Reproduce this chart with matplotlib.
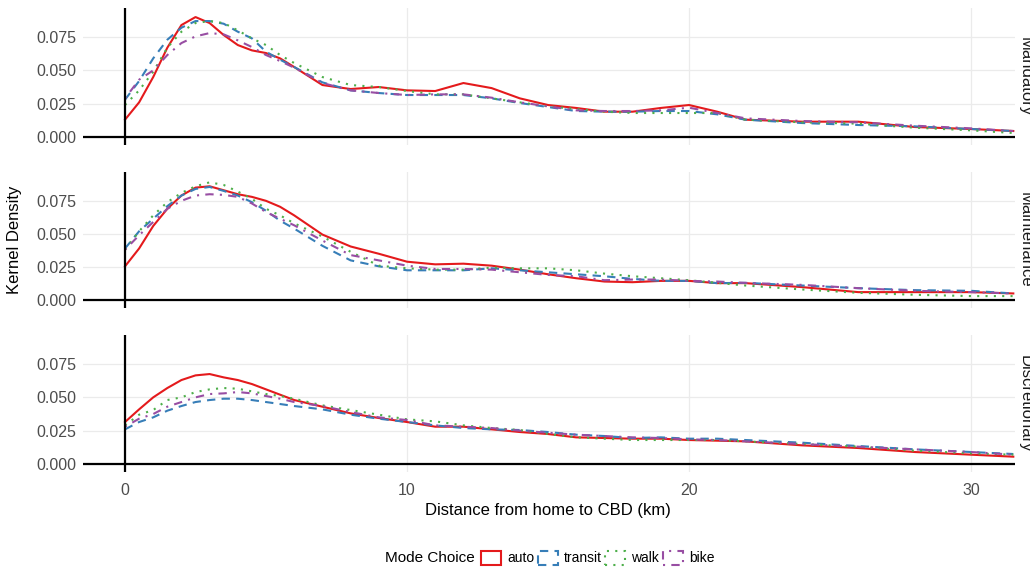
import matplotlib
matplotlib.use("Agg")
import matplotlib.pyplot as plt
from matplotlib.patches import Patch

plt.rcParams['font.family'] = ['Liberation Sans', 'DejaVu Sans']

# distance grid (km) at which the densities were read
dist = [0, 0.5, 1, 1.5, 2, 2.5, 3, 3.5, 4, 4.5, 5, 5.5, 6, 7, 8, 9, 10, 11, 12, 13,
        14, 15, 16, 17, 18, 19, 20, 21, 22, 24, 26, 28, 30, 31.5]

modes = ['auto', 'transit', 'walk', 'bike']
purposes = ['Mandatory', 'Maintenance', 'Discretionary']

# Mandatory
auto_mand = [0.013, 0.026, 0.045, 0.067, 0.084, 0.090, 0.0855, 0.0765, 0.069, 0.065, 0.063, 0.059,
             0.0525, 0.039, 0.036, 0.0375, 0.035, 0.0345, 0.0405, 0.0367, 0.029, 0.024, 0.0218,
             0.019, 0.019, 0.0218, 0.024, 0.019, 0.013, 0.0115, 0.0115, 0.0075, 0.006, 0.0045]
transit_mand = [0.028, 0.042, 0.059, 0.073, 0.082, 0.087, 0.087, 0.085, 0.079, 0.074, 0.064, 0.058,
                0.0525, 0.041, 0.035, 0.033, 0.0315, 0.0315, 0.0315, 0.029, 0.0255, 0.0225, 0.0195,
                0.019, 0.019, 0.0195, 0.0195, 0.017, 0.013, 0.0105, 0.009, 0.008, 0.006, 0.0045]
walk_mand = [0.024, 0.035, 0.049, 0.067, 0.079, 0.0855, 0.087, 0.0855, 0.080, 0.074, 0.069, 0.0615,
             0.0555, 0.045, 0.039, 0.0375, 0.0345, 0.032, 0.032, 0.029, 0.026, 0.023, 0.021,
             0.019, 0.018, 0.018, 0.018, 0.018, 0.013, 0.011, 0.010, 0.007, 0.005, 0.003]
bike_mand = [0.029, 0.043, 0.050, 0.0615, 0.0705, 0.0755, 0.078, 0.077, 0.0725, 0.0675, 0.0615, 0.057,
             0.052, 0.0405, 0.035, 0.033, 0.0315, 0.032, 0.032, 0.0295, 0.026, 0.023, 0.020,
             0.0195, 0.0195, 0.020, 0.022, 0.018, 0.014, 0.012, 0.011, 0.0085, 0.0065, 0.0045]

# Maintenance
auto_main = [0.0255, 0.039, 0.056, 0.069, 0.079, 0.085, 0.086, 0.083, 0.080, 0.078, 0.075, 0.0705,
             0.064, 0.0495, 0.0405, 0.035, 0.029, 0.027, 0.0275, 0.026, 0.023, 0.0195, 0.0165,
             0.014, 0.0135, 0.0145, 0.0145, 0.0128, 0.0128, 0.0098, 0.006, 0.006, 0.006, 0.005]
transit_main = [0.039, 0.052, 0.0615, 0.071, 0.079, 0.084, 0.0855, 0.0825, 0.079, 0.074, 0.0675, 0.060,
                0.054, 0.041, 0.030, 0.0255, 0.0225, 0.0225, 0.0225, 0.024, 0.0225, 0.021, 0.0195,
                0.018, 0.016, 0.0145, 0.0145, 0.0128, 0.013, 0.011, 0.009, 0.0075, 0.007, 0.005]
walk_main = [0.038, 0.052, 0.064, 0.074, 0.081, 0.086, 0.089, 0.087, 0.082, 0.0765, 0.069, 0.064,
             0.058, 0.048, 0.0365, 0.026, 0.024, 0.023, 0.023, 0.0245, 0.024, 0.024, 0.0225,
             0.020, 0.018, 0.0165, 0.015, 0.013, 0.011, 0.008, 0.0055, 0.004, 0.003, 0.003]
bike_main = [0.038, 0.049, 0.059, 0.069, 0.075, 0.079, 0.080, 0.0795, 0.078, 0.073, 0.0665, 0.0615,
             0.0565, 0.045, 0.034, 0.030, 0.026, 0.0235, 0.0235, 0.023, 0.021, 0.019, 0.018,
             0.015, 0.0155, 0.0155, 0.0145, 0.014, 0.013, 0.0115, 0.009, 0.007, 0.006, 0.005]

# Discretionary
auto_disc = [0.0315, 0.041, 0.050, 0.057, 0.063, 0.0665, 0.0675, 0.065, 0.063, 0.060, 0.056, 0.052,
             0.048, 0.043, 0.038, 0.0345, 0.0315, 0.028, 0.028, 0.026, 0.024, 0.0225, 0.020,
             0.0195, 0.019, 0.019, 0.018, 0.0175, 0.017, 0.014, 0.012, 0.009, 0.007, 0.0055]
transit_disc = [0.026, 0.0315, 0.035, 0.040, 0.0435, 0.0465, 0.048, 0.049, 0.049, 0.048, 0.0465, 0.045,
                0.0435, 0.041, 0.037, 0.034, 0.0315, 0.029, 0.027, 0.026, 0.0255, 0.024, 0.022,
                0.021, 0.0195, 0.020, 0.019, 0.019, 0.018, 0.016, 0.0135, 0.011, 0.009, 0.0075]
walk_disc = [0.029, 0.037, 0.0405, 0.048, 0.050, 0.054, 0.056, 0.057, 0.0565, 0.0545, 0.0525, 0.051,
             0.049, 0.044, 0.0405, 0.037, 0.0335, 0.032, 0.029, 0.027, 0.0255, 0.0225, 0.020,
             0.019, 0.018, 0.018, 0.018, 0.018, 0.017, 0.015, 0.013, 0.010, 0.008, 0.007]
bike_disc = [0.028, 0.034, 0.0375, 0.043, 0.0465, 0.050, 0.0525, 0.053, 0.054, 0.053, 0.051, 0.049,
             0.0465, 0.0435, 0.039, 0.035, 0.033, 0.029, 0.028, 0.027, 0.025, 0.0235, 0.022,
             0.021, 0.020, 0.0195, 0.0185, 0.018, 0.017, 0.015, 0.013, 0.011, 0.009, 0.007]

curvas = [
    [auto_mand, transit_mand, walk_mand, bike_mand],
    [auto_main, transit_main, walk_main, bike_main],
    [auto_disc, transit_disc, walk_disc, bike_disc],
]

colores = ['#E41A1C', '#377EB8', '#4DAF4A', '#984EA3']
estilos = ['-', (0, (4, 3)), (0, (1, 3)), (0, (1, 3, 4, 3))]

fig = plt.figure(figsize=(10.30, 5.69), dpi=100)
W, H = 1030.0, 569.0
paneles = [(8, 145), (172, 308), (335, 472)]  # top/bottom in pixels

for i, (top, bot) in enumerate(paneles):
    ax = fig.add_axes([83 / W, 1 - bot / H, (1015 - 83) / W, (bot - top) / H])
    for serie, c, ls in zip(curvas[i], colores, estilos):
        ax.plot(dist, serie, color=c, linestyle=ls, lw=1.5)
    ax.axhline(0, color='black', lw=1.6, zorder=5)
    ax.axvline(0, color='black', lw=1.6, zorder=5)
    ax.set_xlim(-1.49, 31.56)
    ax.set_ylim(-0.006, 0.0968)
    ax.set_xticks([0, 10, 20, 30])
    ax.set_yticks([0, 0.025, 0.05, 0.075])
    ax.set_yticklabels(['0.000', '0.025', '0.050', '0.075'])
    ax.grid(True, color='#EBEBEB', lw=0.9)
    ax.set_axisbelow(True)
    for s in ax.spines.values():
        s.set_visible(False)
    ax.tick_params(length=0, labelsize=11.5, labelcolor='#4D4D4D')
    ax.tick_params(axis='x', pad=8)
    ax.tick_params(axis='y', pad=5)
    if i < 2:
        ax.tick_params(labelbottom=False)
    fig.text(1018 / W, 1 - (top + bot) / 2 / H, purposes[i], rotation=-90,
             ha='left', va='center', fontsize=12, color='#1A1A1A')

fig.text(548 / W, 1 - 511 / H, 'Distance from home to CBD (km)', ha='center', va='center',
         fontsize=12, color='black')
fig.text(15 / W, 1 - 240 / H, 'Kernel Density', rotation=90, ha='center', va='center',
         fontsize=12, color='black')

fig.text(385 / W, 1 - 558 / H, 'Mode Choice', ha='left', va='center', fontsize=11)
handles = [Patch(facecolor='white', edgecolor=c, linestyle=ls, lw=1.5)
           for c, ls in zip(colores, estilos)]
fig.legend(handles, modes, loc='center left', bbox_to_anchor=(481 / W, 1 - 558 / H), ncol=4,
           frameon=False, fontsize=10, handlelength=1.45, handleheight=1.2,
           handletextpad=0.43, columnspacing=0.25, borderpad=0, borderaxespad=0)

fig.savefig('out.png', dpi=100)
